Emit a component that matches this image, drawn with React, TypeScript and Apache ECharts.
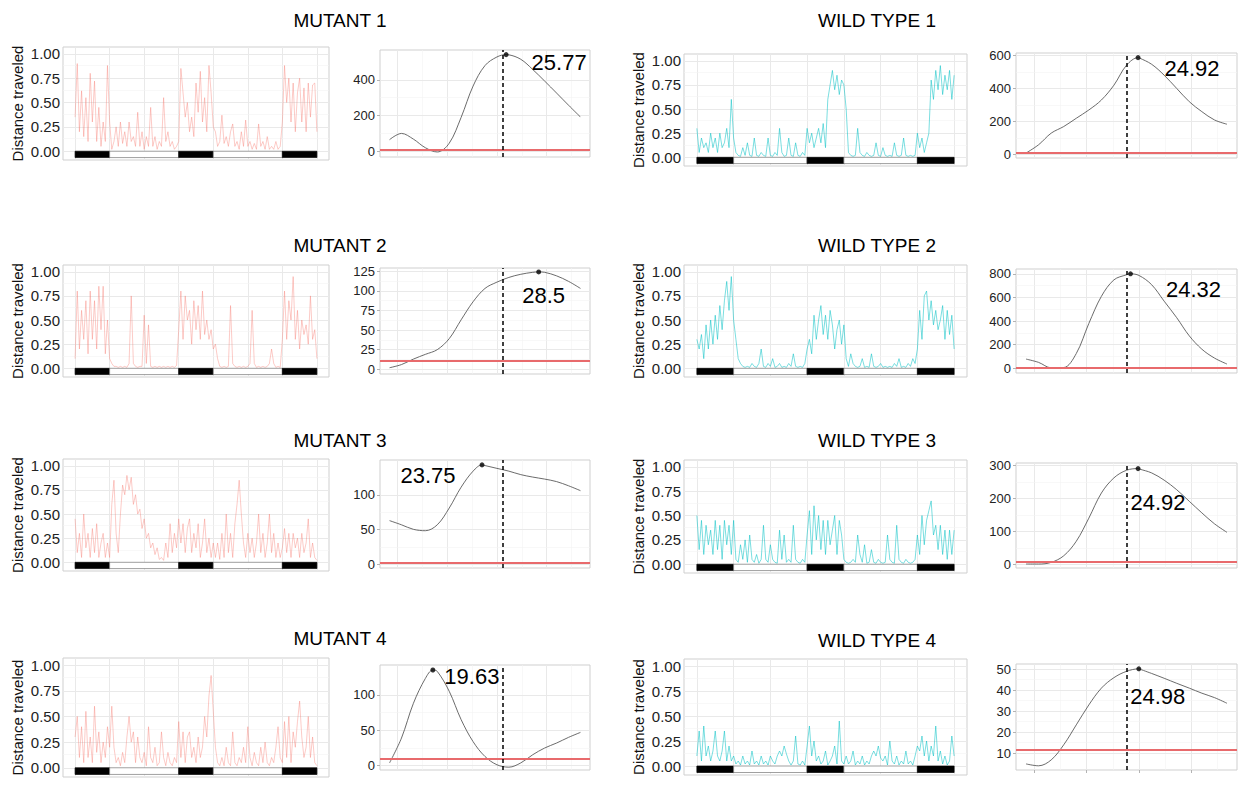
import React, { useEffect, useRef } from "react";
import * as echarts from "echarts";

// ---------------- data ----------------
const SAMPLE_STEP_H = 0.5; // hours between activity samples (0 .. 56 h)
// light/dark schedule: [start h, end h, dark(1)/light(0)]
const LD_BLOCKS = [
  [0, 8, 1],
  [8, 24, 0],
  [24, 32, 1],
  [32, 48, 0],
  [48, 56, 1],
];
const LD_BAR_DEPTH = -0.065;
const ACT_X_RANGE = [-2.8, 58.8];
const ACT_Y_RANGE = [-0.09, 1.07];
const ACT_Y_TICKS = [0, 0.25, 0.5, 0.75, 1.0];
const ACT_Y_MINOR = [0.125, 0.375, 0.625, 0.875];
const ACT_X_GRID = [0, 8, 16, 24, 32, 40, 48, 56];

const PER_X_RANGE = [15.2, 32.8];
const PER_X_TICKS = [16.667, 20.833, 25, 29.167];
const PER_X_MINOR = [18.75, 22.917, 27.083, 31.25];
const PERIOD_HOURS = [16, 17, 18, 19, 20, 21, 22, 23, 24, 25, 26, 27, 28, 29, 30, 31, 32];

const PANEL_TITLES = ["MUTANT 1", "MUTANT 2", "MUTANT 3", "MUTANT 4", "WILD TYPE 1", "WILD TYPE 2", "WILD TYPE 3", "WILD TYPE 4"];
const PANEL_GROUP = ["mutant", "mutant", "mutant", "mutant", "wt", "wt", "wt", "wt"];

// activity traces (normalised distance travelled), one value per 0.5 h
const M1_ACT = [
  .35, .9, .2, .62, .15, .55, .1, .8, .3, .72, .1, .45, .05, .3, .1, .88, .3,
  .02, .1, .25, .05, .3, .08, .2, .05, .3, .1, .15, .05, .4, .05, .2, .02, .15, .05, .45, .05, .15, .02, .1, .05, .55, .1, .2, .05, .1, .02, .05, .1,
  .85, .6, .35, .5, .2, .35, .15, .7, .4, .82, .3, .55, .2, .88, .6, .25,
  .2, .05, .1, .37, .08, .15, .05, .2, .28, .05, .1, .02, .2, .05, .32, .05, .1, .02, .08, .02, .28, .05, .1, .02, .15, .02, .05, .02, .1, .02, .05, .3,
  .88, .5, .75, .3, .7, .2, .6, .75, .3, .65, .2, .7, .35, .68, .7, .2,
];
const M2_ACT = [
  .1, .8, .2, .6, .3, .7, .15, .8, .3, .7, .2, .85, .4, .85, .15, .5, .1,
  .05, .02, .02, .01, .02, .01, .02, .01, .05, .75, .05, .02, .01, .02, .02, .55, .05, .45, .02, .01, .02, .01, .02, .01, .02, .01, .02, .01, .02, .01, .03, .4,
  .8, .3, .75, .5, .6, .25, .7, .4, .65, .3, .8, .35, .5, .3, .4, .2,
  .25, .1, .02, .01, .02, .01, .02, .65, .05, .02, .01, .02, .01, .02, .01, .02, .05, .6, .05, .01, .02, .01, .02, .01, .02, .05, .2, .05, .01, .02, .01, .3,
  .8, .3, .7, .5, .95, .3, .6, .2, .5, .35, .45, .25, .75, .3, .4, .1,
];
const M3_ACT = [
  .45, .1, .3, .05, .5, .15, .3, .05, .35, .1, .4, .05, .2, .3, .05, .2, .05,
  .6, .85, .3, .1, .5, .8, .7, .9, .75, .88, .6, .7, .5, .55, .35, .45, .25, .3, .15, .2, .08, .15, .03, .05, .02, .2, .05, .4, .1, .3, .15, .45,
  .2, .4, .1, .35, .45, .1, .3, .15, .4, .05, .2, .45, .1, .25, .05, .2,
  .05, .2, .03, .3, .05, .5, .1, .3, .05, .4, .6, .85, .5, .2, .05, .3, .1, .25, .05, .2, .5, .1, .3, .05, .2, .5, .1, .3, .05, .2, .05, .15,
  .35, .1, .3, .05, .3, .15, .25, .05, .3, .1, .2, .45, .05, .2, .05, .02,
];
const M4_ACT = [
  .3, .5, .1, .4, .05, .55, .1, .3, .05, .6, .15, .35, .05, .25, .1, .4, .2,
  .6, .2, .05, .1, .02, .15, .05, .3, .5, .25, .35, .05, .3, .1, .05, .15, .02, .4, .1, .05, .2, .02, .05, .35, .1, .02, .15, .05, .02, .1, .05, .45,
  .1, .35, .05, .3, .35, .1, .2, .05, .3, .1, .2, .5, .3, .7, .9, .55,
  .2, .05, .02, .1, .02, .2, .05, .02, .35, .05, .02, .1, .05, .2, .05, .4, .1, .02, .15, .05, .02, .2, .05, .25, .05, .02, .1, .05, .2, .4, .1, .05,
  .45, .1, .5, .05, .35, .2, .45, .65, .3, .1, .2, .5, .1, .3, .05, .02,
];
const WT1_ACT = [
  .3, .05, .2, .1, .15, .05, .25, .1, .2, .05, .25, .1, .15, .3, .1, .6, .2,
  .05, .02, .01, .1, .02, .15, .02, .01, .2, .02, .01, .05, .02, .01, .2, .02, .01, .05, .02, .3, .05, .01, .02, .2, .02, .01, .15, .02, .01, .05, .02, .3,
  .15, .25, .1, .2, .3, .15, .35, .1, .6, .75, .9, .7, .85, .65, .8, .75,
  .5, .05, .02, .01, .02, .3, .05, .02, .01, .05, .02, .01, .02, .15, .02, .01, .1, .02, .01, .02, .01, .15, .02, .01, .02, .2, .02, .01, .02, .01, .02, .25,
  .1, .2, .05, .15, .25, .8, .6, .9, .7, .95, .65, .85, .7, .9, .6, .85,
];
const WT2_ACT = [
  .3, .2, .35, .1, .45, .2, .5, .25, .55, .3, .65, .4, .7, .9, .6, .95, .5,
  .3, .1, .05, .02, .01, .02, .01, .05, .02, .01, .05, .2, .02, .01, .05, .02, .1, .01, .02, .05, .01, .02, .01, .05, .02, .15, .02, .01, .02, .01, .05, .2,
  .3, .15, .55, .3, .5, .65, .35, .55, .3, .6, .45, .2, .4, .5, .25, .45,
  .1, .02, .15, .05, .02, .01, .02, .1, .01, .02, .01, .15, .02, .01, .02, .05, .01, .02, .01, .02, .01, .05, .02, .1, .01, .02, .01, .05, .02, .1, .05, .2,
  .6, .3, .75, .8, .5, .7, .45, .6, .4, .5, .65, .3, .6, .35, .55, .2,
];
const WT3_ACT = [
  .5, .15, .45, .1, .4, .2, .35, .1, .45, .15, .4, .05, .45, .2, .4, .1, .45,
  .05, .02, .2, .05, .25, .02, .3, .05, .02, .1, .01, .05, .4, .05, .02, .2, .05, .02, .01, .35, .05, .3, .02, .05, .02, .4, .05, .02, .01, .05, .02, .3,
  .55, .1, .6, .25, .5, .15, .45, .1, .45, .2, .35, .5, .1, .45, .3, .05,
  .02, .01, .02, .05, .02, .3, .1, .02, .2, .01, .02, .15, .02, .01, .05, .02, .01, .02, .3, .05, .02, .01, .4, .05, .02, .01, .05, .02, .01, .02, .05, .3,
  .1, .5, .2, .45, .55, .65, .3, .4, .15, .4, .1, .35, .05, .35, .1, .35,
];
const WT4_ACT = [
  .1, .35, .05, .4, .1, .2, .05, .15, .35, .1, .05, .15, .35, .05, .2, .05, .1,
  .02, .05, .01, .1, .02, .05, .01, .15, .02, .05, .01, .1, .02, .05, .01, .1, .05, .02, .1, .15, .1, .2, .12, .05, .01, .05, .3, .02, .01, .05, .01, .2,
  .4, .1, .25, .05, .1, .02, .05, .15, .01, .05, .1, .2, .02, .45, .05, .02,
  .1, .02, .05, .15, .01, .05, .02, .1, .01, .05, .02, .1, .15, .1, .2, .08, .05, .1, .01, .25, .05, .02, .1, .01, .05, .02, .15, .02, .05, .01, .1, .2,
  .15, .3, .1, .25, .05, .2, .1, .4, .05, .15, .02, .1, .01, .05, .3, .1,
];
const ACTIVITY = [M1_ACT, M2_ACT, M3_ACT, M4_ACT, WT1_ACT, WT2_ACT, WT3_ACT, WT4_ACT];

// periodogram power at PERIOD_HOURS
const M1_PER = [65, 100, 68, 20, -4, 45, 190, 365, 480, 528, 540, 515, 458, 393, 326, 258, 192];
const M2_PER = [2, 6, 13, 19, 25, 39, 63, 86, 103, 111, 117, 121, 123.5, 123.5, 119, 112, 103];
const M3_PER = [63, 57, 50.5, 48.5, 57, 81, 111, 134, 142, 138, 134, 129, 125.5, 122.6, 119, 113, 106];
const M4_PER = [4, 39, 88, 123, 133, 105, 65, 34, 13, 1.4, -2, 4, 15.5, 25, 32, 40, 47];
const WT1_PER = [10, 60, 130, 170, 220, 270, 330, 420, 540, 585, 546, 480, 400, 320, 260, 210, 184];
const WT2_PER = [78, 50, 4, 6, 125, 380, 610, 750, 793, 787, 709, 569, 429, 275, 162, 87, 36];
const WT3_PER = [2, 2, 7, 27, 71, 141, 217, 263, 286, 290, 278, 256, 227, 192, 157, 124, 98];
const WT4_PER = [4.9, 4, 6.8, 14, 23.5, 33, 41, 46, 49, 50, 48, 45.7, 43.3, 41, 38.6, 36.5, 33.8];
const PERIODOGRAM = [M1_PER, M2_PER, M3_PER, M4_PER, WT1_PER, WT2_PER, WT3_PER, WT4_PER];

const PEAK_PERIODS = [25.77, 28.5, 23.75, 19.63, 24.92, 24.32, 24.92, 24.98];
const PEAK_POWERS = [541, 124, 143, 135, 586, 801, 291, 50.2];
const THRESHOLDS = [10, 10.5, 2.5, 10.5, 10, 8, 9, 11.5];
const REF_PERIODS = [25.5, 25.5, 25.5, 25.5, 24, 24, 24, 24];
const PER_Y_TICKS = [
  [0, 200, 400],
  [0, 25, 50, 75, 100, 125],
  [0, 50, 100],
  [0, 50, 100],
  [0, 200, 400, 600],
  [0, 200, 400, 600, 800],
  [0, 100, 200, 300],
  [10, 20, 30, 40, 50],
];
const PER_Y_RANGES = [
  [-32, 567],
  [-6, 129],
  [-5, 150],
  [-6, 142],
  [-20, 614],
  [-40, 842],
  [-10, 308],
  [2, 52.5],
];

// ---------------- layout (pixels) ----------------
const ACT_BOX = [
  [63, 47, 329, 160],
  [63, 265, 329, 377],
  [63, 459, 329, 571],
  [63, 658, 329, 777],
  [684, 54, 967, 166],
  [684, 265, 967, 377],
  [684, 460, 967, 573],
  [684, 659, 967, 775],
];
const PER_BOX = [
  [380, 50, 590, 157],
  [380, 268, 590, 374],
  [380, 460, 590, 568],
  [380, 665, 590, 770],
  [1016, 53, 1237, 158],
  [1016, 269, 1237, 373],
  [1016, 463, 1237, 568],
  [1016, 664, 1237, 770],
];
const TITLE_POS = [
  [340, 20], [340, 245], [340, 440], [340, 638],
  [877, 20], [877, 245], [877, 440], [877, 640],
];
const PEAK_LABEL_OFFSET = [
  [53, 8], [5, 24], [-54, 11], [39, 7],
  [54, 11], [63, 16], [20, 34], [19, 28],
];

const FONT = "'Liberation Sans', Arial, Helvetica, sans-serif";
const COLORS: Record<string, string> = { mutant: "#F8766D", wt: "#00BFC4" };
const TRACE_OPACITY: Record<string, number> = { mutant: 0.55, wt: 0.75 };
const GRID_MAJOR = { color: "#e9e9e9", width: 1, type: "solid" };
const GRID_MINOR = { color: "#f4f4f4", width: 0.6, type: "solid" };

function midpoints(ticks: number[]) {
  const out: number[] = [];
  for (let k = 0; k < ticks.length - 1; k++) out.push((ticks[k] + ticks[k + 1]) / 2);
  return out;
}

function buildOption() {
  const grid: any[] = [];
  const xAxis: any[] = [];
  const yAxis: any[] = [];
  const series: any[] = [];
  const graphic: any[] = [];

  PANEL_TITLES.forEach((title, i) => {
    const color = COLORS[PANEL_GROUP[i]];
    // ---------- activity panel ----------
    const a = ACT_BOX[i];
    const ga = grid.length;
    grid.push({
      left: a[0], top: a[1], width: a[2] - a[0], height: a[3] - a[1],
      show: true, borderColor: "#cfcfcf", borderWidth: 1, backgroundColor: "#ffffff",
    });
    xAxis.push({
      gridIndex: ga, type: "value", min: ACT_X_RANGE[0], max: ACT_X_RANGE[1],
      axisLine: { show: false }, axisTick: { show: false }, axisLabel: { show: false }, splitLine: { show: false },
    });
    yAxis.push({
      gridIndex: ga, type: "value", min: ACT_Y_RANGE[0], max: ACT_Y_RANGE[1],
      name: "Distance traveled", nameLocation: "middle", nameGap: 38, nameRotate: 90,
      nameTextStyle: { fontSize: 15, color: "#111", fontFamily: FONT },
      axisLine: { show: false },
      axisTick: { show: true, length: 2, customValues: ACT_Y_TICKS, lineStyle: { color: "#b3b3b3" } },
      axisLabel: {
        customValues: ACT_Y_TICKS, formatter: (v: number) => v.toFixed(2),
        fontSize: 15, color: "#222", margin: 3, fontFamily: FONT,
      },
      splitLine: { show: false },
    });
    const actData = ACTIVITY[i].map((v, k) => [k * SAMPLE_STEP_H, v]);
    series.push({
      type: "line", xAxisIndex: ga, yAxisIndex: ga, data: actData, showSymbol: false, z: 3,
      lineStyle: { color, width: 0.7, opacity: TRACE_OPACITY[PANEL_GROUP[i]] }, itemStyle: { color },
      silent: true,
      markLine: {
        silent: true, symbol: ["none", "none"], label: { show: false }, z: 1,
        emphasis: { disabled: true },
        data: [
          ...ACT_X_GRID.map((v) => ({ xAxis: v, lineStyle: GRID_MAJOR })),
          ...ACT_Y_TICKS.map((v) => ({ yAxis: v, lineStyle: GRID_MAJOR })),
          ...ACT_Y_MINOR.map((v) => ({ yAxis: v, lineStyle: GRID_MINOR })),
        ],
      },
    });
    series.push({
      type: "custom", xAxisIndex: ga, yAxisIndex: ga, z: 4, silent: true,
      data: LD_BLOCKS, encode: { x: [0, 1] },
      renderItem: (_p: any, api: any) => {
        const s = api.coord([api.value(0), 0]);
        const e = api.coord([api.value(1), LD_BAR_DEPTH]);
        const dark = api.value(2) === 1;
        return {
          type: "rect",
          shape: { x: s[0], y: s[1], width: e[0] - s[0], height: e[1] - s[1] },
          style: { fill: dark ? "#000" : "#fff", stroke: dark ? "#000" : "#777", lineWidth: 0.7 },
        };
      },
    });

    // ---------- periodogram panel ----------
    const b = PER_BOX[i];
    const gp = grid.length;
    grid.push({
      left: b[0], top: b[1], width: b[2] - b[0], height: b[3] - b[1],
      show: true, borderColor: "#cfcfcf", borderWidth: 1, backgroundColor: "#ffffff",
    });
    xAxis.push({
      gridIndex: gp, type: "value", min: PER_X_RANGE[0], max: PER_X_RANGE[1],
      axisLine: { show: false },
      axisTick: { show: true, length: 3, customValues: PER_X_TICKS, lineStyle: { color: "#b3b3b3" } },
      axisLabel: { show: false },
      splitLine: { show: false },
    });
    const yt = PER_Y_TICKS[i];
    yAxis.push({
      gridIndex: gp, type: "value", min: PER_Y_RANGES[i][0], max: PER_Y_RANGES[i][1],
      axisLine: { show: false },
      axisTick: { show: true, length: 3, customValues: yt, lineStyle: { color: "#b3b3b3" } },
      axisLabel: { customValues: yt, fontSize: 13, color: "#222", margin: 5, fontFamily: FONT },
      splitLine: { show: false },
    });
    const pts = PERIOD_HOURS.map((h, k) => [h, PERIODOGRAM[i][k]]);
    pts.push([PEAK_PERIODS[i], PEAK_POWERS[i]]);
    pts.sort((p, q) => p[0] - q[0]);
    series.push({
      type: "line", xAxisIndex: gp, yAxisIndex: gp, data: pts, smooth: 0.35, showSymbol: false, z: 3,
      silent: true,
      lineStyle: { color: "#5a5a5a", width: 0.9 }, itemStyle: { color: "#5a5a5a" },
      markLine: {
        silent: true, symbol: ["none", "none"], label: { show: false }, z: 1,
        emphasis: { disabled: true },
        data: [
          ...PER_X_TICKS.map((v) => ({ xAxis: v, lineStyle: GRID_MAJOR })),
          ...PER_X_MINOR.map((v) => ({ xAxis: v, lineStyle: GRID_MINOR })),
          ...yt.map((v) => ({ yAxis: v, lineStyle: GRID_MAJOR })),
          ...midpoints(yt).map((v) => ({ yAxis: v, lineStyle: GRID_MINOR })),
        ],
      },
    });
    series.push({
      type: "scatter", xAxisIndex: gp, yAxisIndex: gp, z: 7, silent: true,
      data: [[PEAK_PERIODS[i], PEAK_POWERS[i]]],
      symbol: "circle", symbolSize: 5, itemStyle: { color: "#000" },
      label: {
        show: true, position: "inside", offset: PEAK_LABEL_OFFSET[i],
        formatter: () => String(PEAK_PERIODS[i]),
        fontSize: 22, color: "#000", opacity: 1, textBorderWidth: 0, fontFamily: FONT,
      },
      markLine: {
        silent: true, symbol: ["none", "none"], label: { show: false }, z: 5,
        emphasis: { disabled: true },
        data: [
          { yAxis: THRESHOLDS[i], lineStyle: { color: "#e86a6c", width: 1.8, type: "solid" } },
          { xAxis: REF_PERIODS[i], lineStyle: { color: "#000", width: 1.5, type: [4, 3] } },
        ],
      },
    });

    // ---------- title ----------
    graphic.push({
      type: "text", x: TITLE_POS[i][0], y: TITLE_POS[i][1], silent: true,
      style: {
        text: title, fontSize: 19, fill: "#000", fontFamily: FONT,
        align: "center", verticalAlign: "middle", textAlign: "center", textVerticalAlign: "middle",
      },
    });
  });

  return {
    animation: false,
    backgroundColor: "#ffffff",
    grid, xAxis, yAxis, series, graphic,
  };
}

export default function App() {
  const ref = useRef<HTMLDivElement>(null);
  useEffect(() => {
    if (!ref.current) return;
    const chart = echarts.init(ref.current, undefined, { renderer: "svg" });
    chart.setOption(buildOption() as any);
    return () => chart.dispose();
  }, []);
  return (
    <div
      ref={ref}
      style={{ position: "fixed", left: 0, top: 0, width: 1239, height: 785, background: "#fff" }}
    />
  );
}
